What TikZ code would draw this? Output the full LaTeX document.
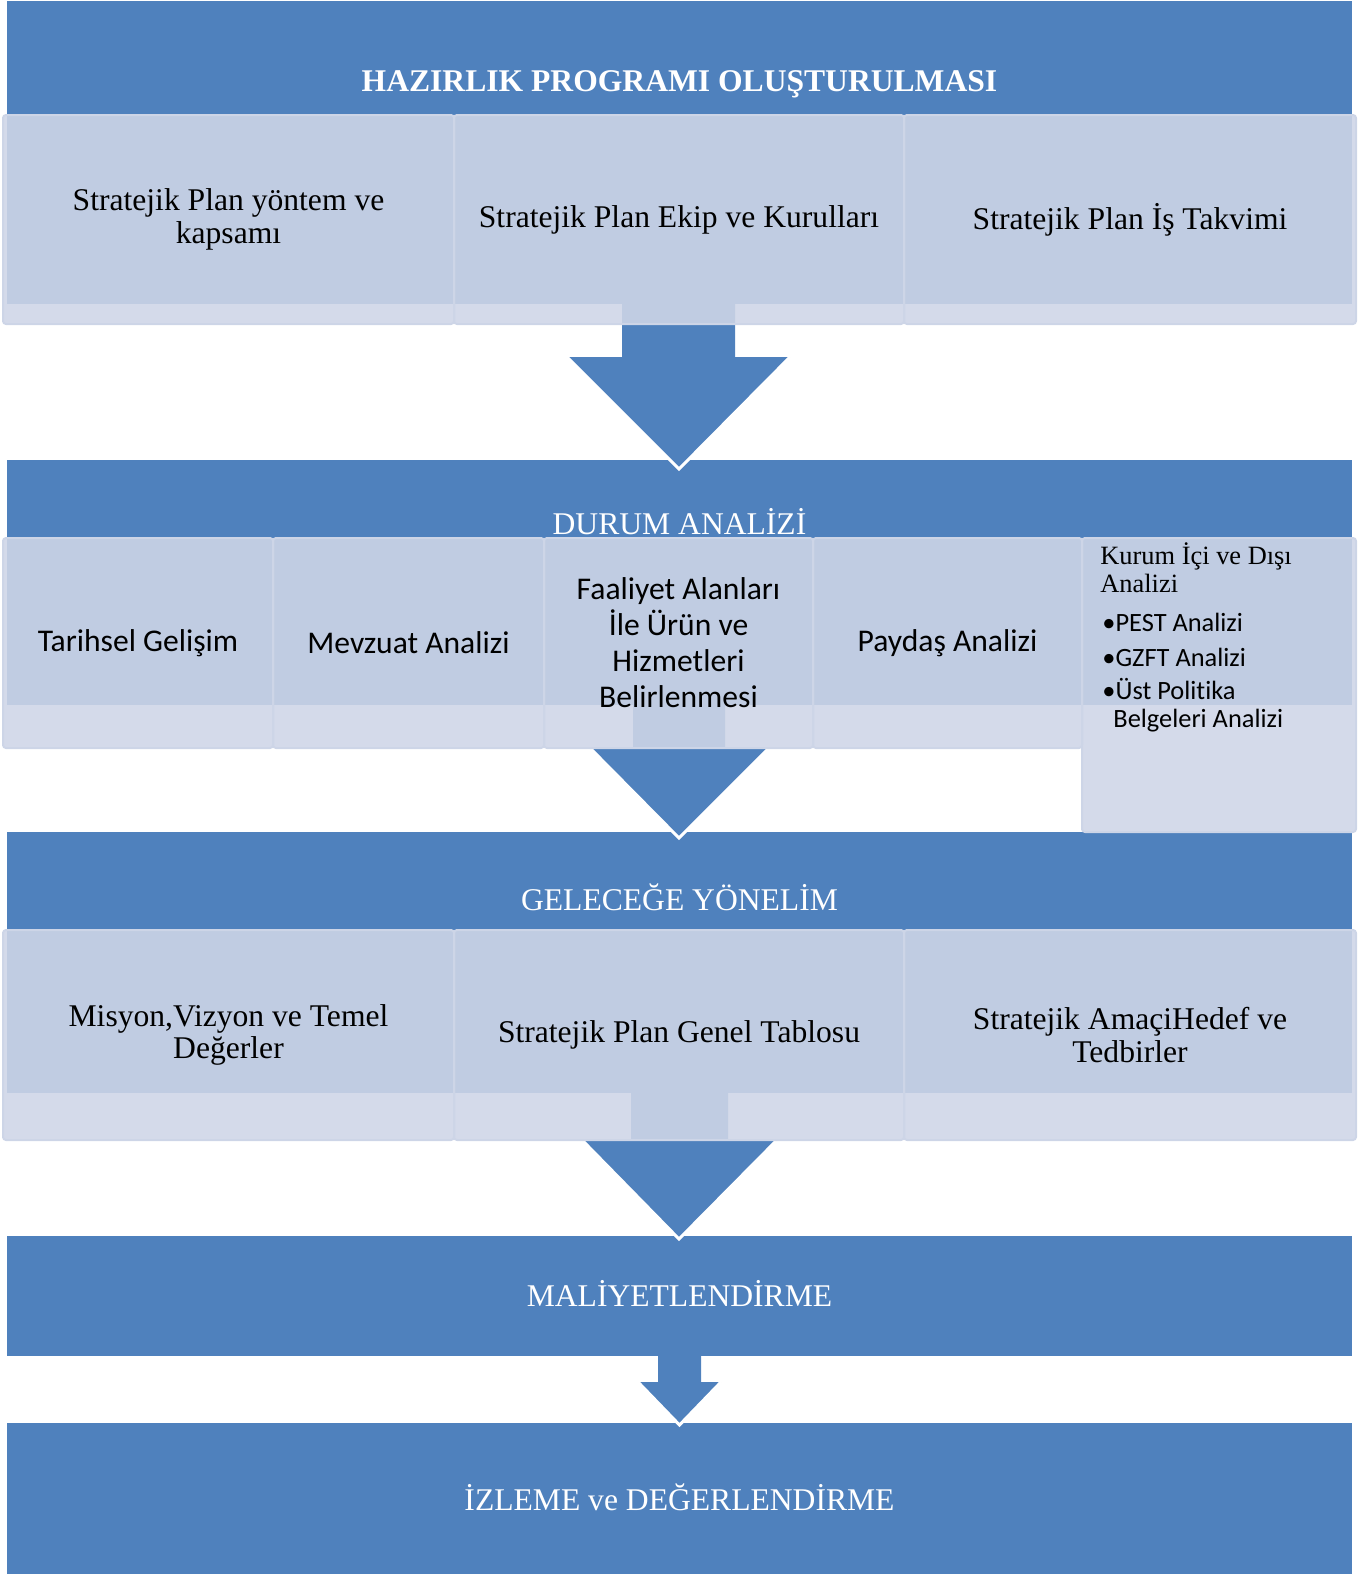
\documentclass[tikz,border=0pt]{standalone}
\usepackage{fontspec}
\setmainfont{Liberation Serif}
\newfontfamily\calfont[Ligatures=NoCommon]{Carlito}
\usepackage{tikz}
\usetikzlibrary{positioning}

\definecolor{hdrblue}{RGB}{79,129,189}
\definecolor{cellfill}{RGB}{207,214,231}
\definecolor{celledge}{RGB}{205,213,231}

\begin{document}
\begin{tikzpicture}[
  x=0.5pt, y=-0.5pt,
  hdr/.style={fill=hdrblue},
  htext/.style={text=white, anchor=base, inner sep=0pt,
                font=\fontsize{15.8}{17}\selectfont},
  cell/.style={draw=celledge, line width=1pt, fill=cellfill, fill opacity=0.89,
               text opacity=1, rounded corners=1.5pt, inner sep=0pt, align=center},
  tcell/.style={cell, font=\fontsize{15.8}{16.3}\selectfont},
  ccell/.style={cell, font=\calfont\fontsize{15.8}{18}\selectfont},
  small/.style={anchor=base west, inner sep=0pt, font=\fontsize{13.2}{14}\selectfont},
  blockarr/.style={fill=hdrblue},
  tipline/.style={draw=white, line width=1.5pt}
]
\useasboundingbox (0,0) rectangle (1368,1574);

%% header bands (they run on under the light cells)
\fill[hdr] (7,1)    rectangle (1352,304);
\fill[hdr] (7,460)  rectangle (1352,705);
\fill[hdr] (7,832)  rectangle (1352,1093);
\fill[hdr] (7,1236) rectangle (1352,1356);
\fill[hdr] (7,1423) rectangle (1352,1574);

%% block arrows between the stages
\fill[blockarr] (622,300) -- (735,300) -- (735,357) -- (790,357)
  -- (679,469) -- (567,357) -- (622,357) -- cycle;
\draw[tipline] (567,357) -- (679,469) -- (790,357);

\fill[blockarr] (633,700) -- (725,700) -- (725,748) -- (769,748)
  -- (679,838) -- (590,748) -- (633,748) -- cycle;
\draw[tipline] (590,748) -- (679,838) -- (769,748);

\fill[blockarr] (631,1088) -- (728,1088) -- (728,1141) -- (776,1141)
  -- (679,1239) -- (583,1141) -- (631,1141) -- cycle;
\draw[tipline] (583,1141) -- (679,1239) -- (776,1141);

\fill[blockarr] (658,1350) -- (701,1350) -- (701,1382) -- (721,1382)
  -- (679.5,1425) -- (638,1382) -- (658,1382) -- cycle;
\draw[tipline] (638,1382) -- (679.5,1425) -- (721,1382);

%% first row
\node[tcell, minimum width=225.5pt, minimum height=104.5pt] (yontem) at (228.5,219.5)
  {Stratejik Plan yöntem ve\\kapsamı};
\node[tcell, minimum width=225pt, minimum height=104.5pt] (ekip) at (679,219.5)
  {Stratejik Plan Ekip ve Kurulları};
\node[tcell, minimum width=226pt, minimum height=104.5pt] (takvim) at (1130,219.5)
  {Stratejik Plan İş Takvimi};

%% second row
\node[ccell, minimum width=135pt, minimum height=105pt] (tarihsel) at (138,643)
  {Tarihsel Gelişim};
\node[ccell, minimum width=135.5pt, minimum height=105pt] (mevzuat) at (408.5,643)
  {Mevzuat Analizi};
\node[ccell, minimum width=134.5pt, minimum height=105pt] (faaliyet) at (678.5,643)
  {Faaliyet Alanları\\İle Ürün ve\\Hizmetleri\\Belirlenmesi};
\node[ccell, minimum width=134.5pt, minimum height=105pt] (paydas) at (947.5,643)
  {Paydaş Analizi};
\node[cell, minimum width=137pt, minimum height=147pt] (kurum) at (1219,685) {};

\node[small] (kurumA) at (1100,564) {Kurum İçi ve Dışı};
\node[small] (kurumB) at (1100,592) {Analizi};
\node[small, font=\calfont\fontsize{13.2}{14}\selectfont] (pest) at (1102,631) {•PEST Analizi};
\node[small, font=\calfont\fontsize{13.2}{14}\selectfont] (gzft) at (1102,666) {•GZFT Analizi};
\node[small, font=\calfont\fontsize{13.2}{14}\selectfont] (ust)  at (1102,699) {•Üst Politika};
\node[small, font=\calfont\fontsize{13.2}{14}\selectfont] (belge) at (1113,727) {Belgeleri Analizi};

%% third row
\node[tcell, minimum width=225.5pt, minimum height=105pt] (misyon) at (228.5,1035)
  {Misyon,Vizyon ve Temel\\Değerler};
\node[tcell, minimum width=225pt, minimum height=105pt] (tablo) at (679,1035)
  {Stratejik Plan Genel Tablosu};
\node[tcell, minimum width=226pt, minimum height=105pt] (amac) at (1130,1035)
  {Stratejik AmaçiHedef ve\\Tedbirler};

%% stage titles
\node[htext, font=\bfseries\fontsize{15.8}{17}\selectfont] (hazirlik) at (679.5,91)
  {HAZIRLIK PROGRAMI OLUŞTURULMASI};
\node[htext] (durum)    at (679.5,534)  {DURUM ANALİZİ};
\node[htext] (gelecek)  at (679.5,910)  {GELECEĞE YÖNELİM};
\node[htext] (maliyet)  at (679.5,1306) {MALİYETLENDİRME};
\node[htext] (izleme)   at (679.5,1510) {İZLEME ve DEĞERLENDİRME};
\end{tikzpicture}
\end{document}
